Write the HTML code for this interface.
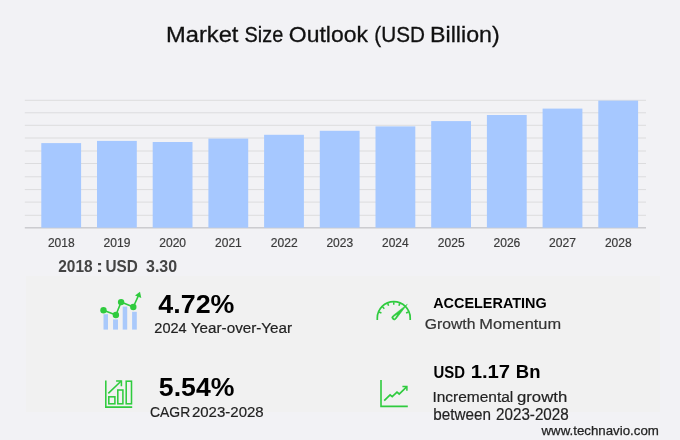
<!DOCTYPE html>
<html lang="en">
<head>
<meta charset="utf-8">
<title>Market Size Outlook (USD Billion)</title>
<style>
html,body{margin:0;padding:0;}
body{width:680px;height:440px;overflow:hidden;background:#f2f2f5;position:relative;font-family:"Liberation Sans",sans-serif;}
.panel{position:absolute;left:26px;top:276px;width:634px;height:136px;background:#f1f1f1;}
svg.g{position:absolute;left:0;top:0;}
.tx{position:absolute;left:0;top:0;width:680px;height:440px;will-change:transform;}
.t{position:absolute;white-space:nowrap;line-height:1;left:0;top:0;transform-origin:0 0;font-family:"Liberation Sans",sans-serif;}
</style>
</head>
<body>
<div class="panel"></div>
<svg class="g" width="680" height="440" viewBox="0 0 680 440">
<rect x="24.8" y="99.80" width="621.2" height="1" fill="#dcdcde"/>
<rect x="24.8" y="112.30" width="621.2" height="1" fill="#dcdcde"/>
<rect x="24.8" y="124.80" width="621.2" height="1" fill="#dcdcde"/>
<rect x="24.8" y="137.50" width="621.2" height="1" fill="#dcdcde"/>
<rect x="24.8" y="150.50" width="621.2" height="1" fill="#dcdcde"/>
<rect x="24.8" y="163.00" width="621.2" height="1" fill="#dcdcde"/>
<rect x="24.8" y="176.30" width="621.2" height="1" fill="#dcdcde"/>
<rect x="24.8" y="189.10" width="621.2" height="1" fill="#dcdcde"/>
<rect x="24.8" y="201.60" width="621.2" height="1" fill="#dcdcde"/>
<rect x="24.8" y="214.80" width="621.2" height="1" fill="#dcdcde"/>
<rect x="24.8" y="227.1" width="621.2" height="1.4" fill="#c8c8cc"/>
<rect x="41.30" y="143.10" width="39.8" height="84.60" fill="#a6c8ff"/>
<rect x="97.00" y="140.90" width="39.8" height="86.80" fill="#a6c8ff"/>
<rect x="152.70" y="142.00" width="39.8" height="85.70" fill="#a6c8ff"/>
<rect x="208.40" y="138.60" width="39.8" height="89.10" fill="#a6c8ff"/>
<rect x="264.10" y="134.80" width="39.8" height="92.90" fill="#a6c8ff"/>
<rect x="319.80" y="130.80" width="39.8" height="96.90" fill="#a6c8ff"/>
<rect x="375.50" y="126.40" width="39.8" height="101.30" fill="#a6c8ff"/>
<rect x="431.20" y="121.10" width="39.8" height="106.60" fill="#a6c8ff"/>
<rect x="486.90" y="115.00" width="39.8" height="112.70" fill="#a6c8ff"/>
<rect x="542.60" y="108.60" width="39.8" height="119.10" fill="#a6c8ff"/>
<rect x="598.30" y="100.60" width="39.8" height="127.10" fill="#a6c8ff"/>
<rect x="103.5" y="314.2" width="4.50" height="15.40" fill="#a9c9fb"/>
<rect x="113.05" y="319.4" width="4.95" height="10.20" fill="#a9c9fb"/>
<rect x="122.7" y="306.6" width="4.50" height="23.00" fill="#a9c9fb"/>
<rect x="132.1" y="311.8" width="4.70" height="17.80" fill="#a9c9fb"/>
<polyline points="103.5,310.2 115.9,315.0 121.1,302.1 133.3,307.0 138.2,296.2" fill="none" stroke="#2fcb3e" stroke-width="1.6" stroke-linejoin="round"/>
<circle cx="103.5" cy="310.2" r="3.2" fill="#2fcb3e"/>
<circle cx="115.9" cy="315.0" r="3.2" fill="#2fcb3e"/>
<circle cx="121.1" cy="302.1" r="3.2" fill="#2fcb3e"/>
<circle cx="133.3" cy="307.0" r="3.2" fill="#2fcb3e"/>
<polygon points="140.0,291.8 135.0,295.6 141.3,298.0" fill="#2fcb3e"/>
<g fill="none" stroke="#2fcb3e" stroke-width="1.55" stroke-linecap="butt" stroke-linejoin="miter">
<path d="M105.8 380.4 V407.1 H132.2"/>
<rect x="108.8" y="396.8" width="6.1" height="7.0"/>
<rect x="117.8" y="390.0" width="5.1" height="13.8"/>
<rect x="126.2" y="381.2" width="5.3" height="22.6"/>
<path d="M108.3 393.4 L121.2 381.0"/>
<path d="M116.1 380.9 H121.4 V386.3"/>
</g>
<g fill="none" stroke="#2fcb3e" stroke-width="1.7">
<path d="M377.30 319.9 V318.1 A16.45 16.45 0 0 1 410.20 318.1 V319.9"/>
<path d="M408.49 312.00 L406.08 312.99" stroke-width="1.5"/>
<path d="M399.85 303.36 L398.86 305.77" stroke-width="1.5"/>
<path d="M393.75 302.15 L393.75 304.75" stroke-width="1.5"/>
<path d="M387.65 303.36 L388.64 305.77" stroke-width="1.5"/>
<path d="M382.47 306.82 L384.31 308.66" stroke-width="1.5"/>
<path d="M379.01 312.00 L381.42 312.99" stroke-width="1.5"/>
</g>
<path d="M407.30 304.20 L396.12 318.97 A2.35 2.35 0 1 1 392.79 315.71 Z" fill="#2fcb3e" stroke="#2fcb3e" stroke-width="0.5" stroke-linejoin="round"/>
<path d="M397.40 314.30 L395.11 317.93 A0.9 0.9 0 1 1 393.85 316.70 Z" fill="#dff3e0"/>
<g fill="none" stroke="#2fcb3e" stroke-width="1.6" stroke-linejoin="miter">
<path d="M381.0 380.1 V406.4 H407.8"/>
<path d="M384.2 400.6 L390.1 394.9 L392.2 396.6 L397.0 392.2 L399.2 394.0 L406.6 386.9" stroke-width="1.7"/>
<path d="M402.4 386.5 H406.9 V390.8" stroke-width="1.5"/>
</g>
</svg>
<div class="tx">
<span class="t" style="font-size:22.50px;font-weight:400;color:#111;transform:translate(166.03px,23.70px) scaleX(1.0529);-webkit-text-stroke:0.3px #111">Market</span>
<span class="t" style="font-size:22.00px;font-weight:400;color:#111;transform:translate(244.55px,23.70px) scaleX(0.9036);-webkit-text-stroke:0.3px #111">Size</span>
<span class="t" style="font-size:22.25px;font-weight:400;color:#111;transform:translate(288.84px,23.70px) scaleX(1.0317);-webkit-text-stroke:0.3px #111">Outlook</span>
<span class="t" style="font-size:22.50px;font-weight:400;color:#111;transform:translate(374.33px,23.70px) scaleX(0.9212);-webkit-text-stroke:0.3px #111">(USD</span>
<span class="t" style="font-size:22.50px;font-weight:400;color:#111;transform:translate(430.06px,23.70px) scaleX(1.0316);-webkit-text-stroke:0.3px #111">Billion)</span>
<span class="t" style="font-size:17.25px;font-weight:700;color:#444;transform:translate(58.23px,257.50px) scaleX(0.8947)">2018</span>
<span class="t" style="font-size:17.25px;font-weight:700;color:#444;transform:translate(95.91px,257.50px) scaleX(1.2412)">:</span>
<span class="t" style="font-size:17.25px;font-weight:700;color:#444;transform:translate(105.38px,257.50px) scaleX(0.8868)">USD</span>
<span class="t" style="font-size:17.25px;font-weight:700;color:#444;transform:translate(146.01px,257.50px) scaleX(0.9241)">3.30</span>
<span class="t" style="font-size:26.50px;font-weight:700;color:#000;transform:translate(158.34px,290.50px) scaleX(1.0122)">4.72%</span>
<span class="t" style="font-size:14.75px;font-weight:400;color:#222;transform:translate(154.36px,321.25px) scaleX(0.9852);-webkit-text-stroke:0.2px #222">2024</span>
<span class="t" style="font-size:14.75px;font-weight:400;color:#222;transform:translate(190.84px,321.25px) scaleX(1.0321);-webkit-text-stroke:0.2px #222">Year-over-Year</span>
<span class="t" style="font-size:26.00px;font-weight:700;color:#000;transform:translate(158.85px,373.50px) scaleX(1.0248)">5.54%</span>
<span class="t" style="font-size:15.50px;font-weight:400;color:#222;transform:translate(149.95px,403.50px) scaleX(0.8984);-webkit-text-stroke:0.2px #222">CAGR</span>
<span class="t" style="font-size:15.50px;font-weight:400;color:#222;transform:translate(191.93px,403.50px) scaleX(0.9676);-webkit-text-stroke:0.2px #222">2023-2028</span>
<span class="t" style="font-size:15.50px;font-weight:700;color:#000;transform:translate(433.21px,295.00px) scaleX(0.9300)">ACCELERATING</span>
<span class="t" style="font-size:15.25px;font-weight:400;color:#333;transform:translate(424.70px,316.25px) scaleX(1.0313);-webkit-text-stroke:0.2px #333">Growth</span>
<span class="t" style="font-size:15.50px;font-weight:400;color:#333;transform:translate(479.25px,316.25px) scaleX(1.0555);-webkit-text-stroke:0.2px #333">Momentum</span>
<span class="t" style="font-size:15.75px;font-weight:700;color:#000;transform:translate(433.46px,365.25px) scaleX(0.9462)">USD</span>
<span class="t" style="font-size:18.00px;font-weight:700;color:#000;transform:translate(470.68px,363.25px) scaleX(1.1265)">1.17</span>
<span class="t" style="font-size:18.00px;font-weight:700;color:#000;transform:translate(515.79px,363.25px) scaleX(1.0264)">Bn</span>
<span class="t" style="font-size:15.50px;font-weight:400;color:#222;transform:translate(432.43px,388.75px) scaleX(0.9986);-webkit-text-stroke:0.2px #222">Incremental</span>
<span class="t" style="font-size:15.50px;font-weight:400;color:#222;transform:translate(516.98px,388.75px) scaleX(1.0792);-webkit-text-stroke:0.2px #222">growth</span>
<span class="t" style="font-size:16.50px;font-weight:400;color:#222;transform:translate(433.29px,405.50px) scaleX(0.9239);-webkit-text-stroke:0.2px #222">between</span>
<span class="t" style="font-size:15.75px;font-weight:400;color:#222;transform:translate(496.07px,406.50px) scaleX(0.9639);-webkit-text-stroke:0.2px #222">2023-2028</span>
<span class="t" style="font-size:13.50px;font-weight:400;color:#222;transform:translate(541.47px,423.90px) scaleX(0.9843);-webkit-text-stroke:0.25px #222">www.technavio.com</span>
<span class="t" style="font-size:12.50px;font-weight:400;color:#3a3a3a;transform:translate(47.95px,237.00px) scaleX(0.9599);-webkit-text-stroke:0.2px #3a3a3a">2018</span>
<span class="t" style="font-size:12.50px;font-weight:400;color:#3a3a3a;transform:translate(103.54px,237.00px) scaleX(0.9653);-webkit-text-stroke:0.2px #3a3a3a">2019</span>
<span class="t" style="font-size:12.50px;font-weight:400;color:#3a3a3a;transform:translate(159.26px,237.00px) scaleX(0.9643);-webkit-text-stroke:0.2px #3a3a3a">2020</span>
<span class="t" style="font-size:12.50px;font-weight:400;color:#3a3a3a;transform:translate(215.08px,237.00px) scaleX(0.9606);-webkit-text-stroke:0.2px #3a3a3a">2021</span>
<span class="t" style="font-size:12.50px;font-weight:400;color:#3a3a3a;transform:translate(270.72px,237.00px) scaleX(0.9665);-webkit-text-stroke:0.2px #3a3a3a">2022</span>
<span class="t" style="font-size:12.50px;font-weight:400;color:#3a3a3a;transform:translate(326.40px,237.00px) scaleX(0.9601);-webkit-text-stroke:0.2px #3a3a3a">2023</span>
<span class="t" style="font-size:12.50px;font-weight:400;color:#3a3a3a;transform:translate(382.02px,237.00px) scaleX(0.9538);-webkit-text-stroke:0.2px #3a3a3a">2024</span>
<span class="t" style="font-size:12.50px;font-weight:400;color:#3a3a3a;transform:translate(437.83px,237.00px) scaleX(0.9621);-webkit-text-stroke:0.2px #3a3a3a">2025</span>
<span class="t" style="font-size:12.50px;font-weight:400;color:#3a3a3a;transform:translate(493.52px,237.00px) scaleX(0.9634);-webkit-text-stroke:0.2px #3a3a3a">2026</span>
<span class="t" style="font-size:12.50px;font-weight:400;color:#3a3a3a;transform:translate(549.11px,237.00px) scaleX(0.9693);-webkit-text-stroke:0.2px #3a3a3a">2027</span>
<span class="t" style="font-size:12.50px;font-weight:400;color:#3a3a3a;transform:translate(604.95px,237.00px) scaleX(0.9599);-webkit-text-stroke:0.2px #3a3a3a">2028</span>
</div>
</body>
</html>
